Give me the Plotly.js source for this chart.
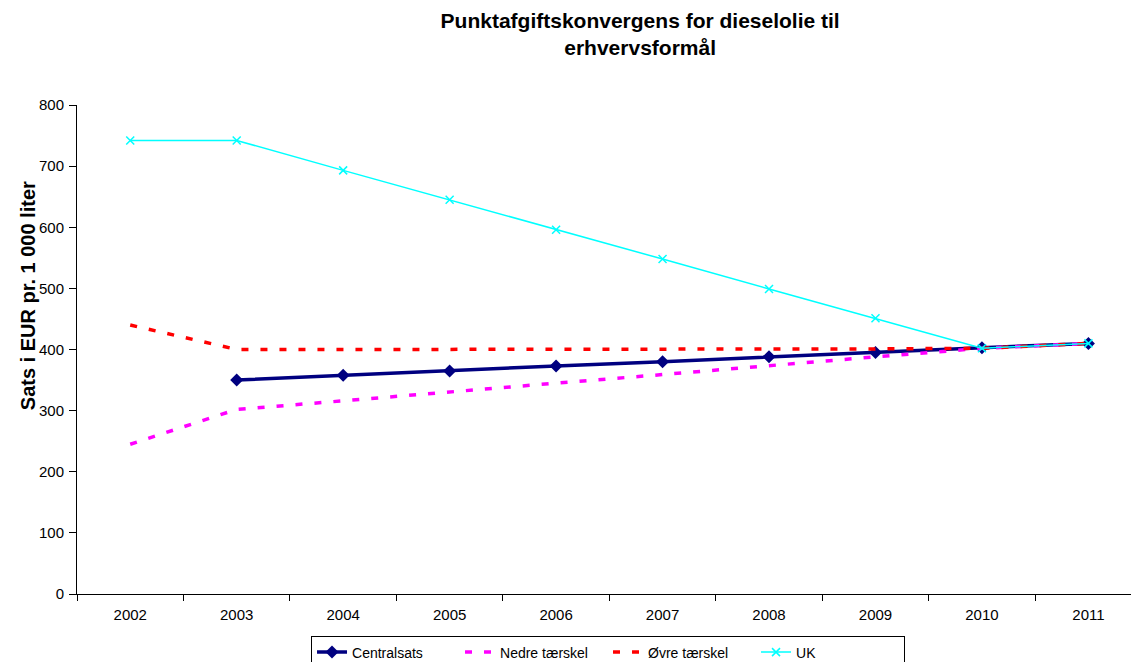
<!DOCTYPE html>
<html>
<head>
<meta charset="utf-8">
<script src="https://cdn.plot.ly/plotly-3.0.1.min.js"></script>
<style>html,body{margin:0;padding:0;background:#fff;}#chart{width:1131px;height:662px;}</style>
</head>
<body>
<div id="chart"></div>
<script>
const years = ['2002','2003','2004','2005','2006','2007','2008','2009','2010','2011'];
const centralsats = [null, 350, 358, 365, 373, 380, 388, 395, 403, 410];
const nedreTaerskel = [245, 302, 316, 331, 345, 359, 374, 388, 402, 410];
const oevreTaerskel = [440, 400, 400, 400, 400, 400, 400, 401, 402, 410];
const uk = [742, 742, 693, 645, 596, 548, 499, 451, 402, 410];
const yTitle = 'Sats i EUR pr. 1 000 liter';
const chartTitle = 'Punktafgiftskonvergens for dieselolie til<br>erhvervsformål';

const traces = [
  {x: years, y: centralsats, name: 'Centralsats', type: 'scatter', mode: 'lines+markers',
   line: {color: '#000080', width: 3.5}, marker: {symbol: 'diamond', size: 10, color: '#000080'}},
  {x: years, y: nedreTaerskel, name: 'Nedre tærskel', type: 'scatter', mode: 'lines',
   line: {color: '#FF00FF', width: 3.5, dash: '7px,12px'}},
  {x: years, y: oevreTaerskel, name: 'Øvre tærskel', type: 'scatter', mode: 'lines',
   line: {color: '#FF0000', width: 3.5, dash: '7px,12px'}},
  {x: years, y: uk, name: 'UK', type: 'scatter', mode: 'lines+markers',
   line: {color: '#00FFFF', width: 1.5}, marker: {symbol: 'x-thin', size: 8, line: {color: '#00FFFF', width: 1.5}}}
];

const layout = {
  width: 1131, height: 662,
  margin: {l: 77, r: 0, t: 105, b: 68, autoexpand: false},
  paper_bgcolor: '#fff', plot_bgcolor: '#fff',
  font: {family: 'Liberation Sans, Arial, sans-serif', color: '#000', size: 14},
  title: {text: '<b>' + chartTitle + '</b>',
          x: 0.566, xref: 'container', xanchor: 'center', y: 0.958, yanchor: 'top', yref: 'container',
          font: {size: 21, family: 'Liberation Sans, Arial, sans-serif'}},
  xaxis: {type: 'category', range: [-0.5, 9.4], showgrid: false, zeroline: false,
          showline: true, linecolor: '#000', linewidth: 1,
          ticks: 'outside', tickson: 'boundaries', ticklen: 6, tickcolor: '#000',
          tickfont: {size: 15}, ticklabelstandoff: 7},
  yaxis: {range: [0, 800], dtick: 100, showgrid: false, zeroline: false,
          showline: true, linecolor: '#000', linewidth: 1,
          ticks: 'outside', ticklen: 7, tickcolor: '#000', tickfont: {size: 15}, ticklabelstandoff: 2},
  annotations: [{text: '<b>' + yTitle + '</b>', textangle: -90, showarrow: false,
                 xref: 'paper', yref: 'paper', x: -0.0465, y: 0.611, xanchor: 'center', yanchor: 'middle',
                 font: {size: 20}}],
  showlegend: true,
  legend: {orientation: 'h', x: 0.275, xref: 'container', xanchor: 'left',
           y: 0.04, yref: 'container', yanchor: 'top',
           bordercolor: '#000', borderwidth: 1, font: {size: 14}, tracegroupgap: 0,
           entrywidth: 103, entrywidthmode: 'pixels'}
};

Plotly.newPlot('chart', traces, layout, {displayModeBar: false, staticPlot: true});
</script>
</body>
</html>
